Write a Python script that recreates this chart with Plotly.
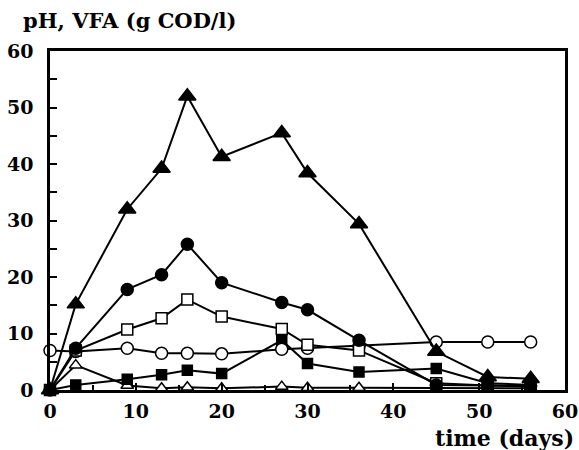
import plotly.graph_objects as go

days = [0, 3, 9, 13, 16, 20, 27, 30, 36, 45, 51, 56]

tri_filled = [0, 15.2, 32.0, 39.2, 52.0, 41.3, 45.5, 38.4, 29.4, 6.8, 2.3, 2.0]
circ_filled = [0, 7.4, 17.8, 20.4, 25.8, 19.0, 15.5, 14.2, 8.8, 0.9, 0.8, 0.7]
sq_open = [0, 7.0, 10.7, 12.7, 16.0, 13.0, 10.8, 8.0, 7.0, 1.2, 0.8, 0.6]
circ_open = [7.0, 6.8, 7.4, 6.5, 6.5, 6.4, 7.2, 7.4, 7.8, 8.5, 8.5, 8.5]
sq_filled = [0, 0.9, 1.9, 2.7, 3.5, 2.9, 8.8, 4.7, 3.2, 3.8, 1.2, 0.9]
tri_open = [0, 4.4, 0.8, 0.3, 0.5, 0.3, 0.6, 0.4, 0.4, 0.3, 0.3, 0.3]

x_ticks = [0, 10, 20, 30, 40, 50, 60]
y_ticks = [0, 10, 20, 30, 40, 50, 60]

FONT = "DejaVu Serif"

series = [
    (tri_open, "triangle-up", "white", 11),
    (sq_filled, "square", "black", 10),
    (circ_open, "circle", "white", 12),
    (sq_open, "square", "white", 11),
    (circ_filled, "circle", "black", 12),
    (tri_filled, "triangle-up", "black", 15),
]

fig = go.Figure()
for ys, sym, fill, size in series:
    fig.add_trace(go.Scatter(
        x=days, y=ys, mode="lines+markers",
        line=dict(color="black", width=2),
        marker=dict(symbol=sym, color=fill, size=size,
                    line=dict(color="black", width=1.5)),
        showlegend=False, cliponaxis=False,
    ))

axis_common = dict(
    showgrid=False, zeroline=False, showline=True, linecolor="black",
    linewidth=2.5, mirror=True, ticks="inside", tickcolor="black",
    tickwidth=1.5, ticklen=7, automargin=False,
    tickfont=dict(family=FONT, size=19, color="black", weight="bold"),
)

fig.update_xaxes(range=[0, 60], tickvals=x_ticks,
                 minor=dict(dtick=5, ticks="inside", ticklen=5, tickcolor="black"),
                 ticklabelstandoff=2, **axis_common)
fig.update_yaxes(range=[0, 60], tickvals=y_ticks,
                 minor=dict(dtick=5, ticks="inside", ticklen=7, tickcolor="black"),
                 ticklabelstandoff=10, **axis_common)

fig.add_annotation(text="pH, VFA (g COD/l)", xref="paper", yref="paper",
                   x=-0.056, y=1.091, xanchor="left", yanchor="middle",
                   showarrow=False,
                   font=dict(family=FONT, size=21, color="black", weight="bold"))
fig.add_annotation(text="time (days)", xref="paper", yref="paper",
                   x=1.019, y=-0.141, xanchor="right", yanchor="middle",
                   showarrow=False, borderpad=0,
                   font=dict(family=FONT, size=22, color="black", weight="bold"))

fig.update_layout(
    width=579, height=450,
    margin=dict(l=50, r=14, t=51, b=60),
    paper_bgcolor="white", plot_bgcolor="white",
)

fig.write_html("out.html")
